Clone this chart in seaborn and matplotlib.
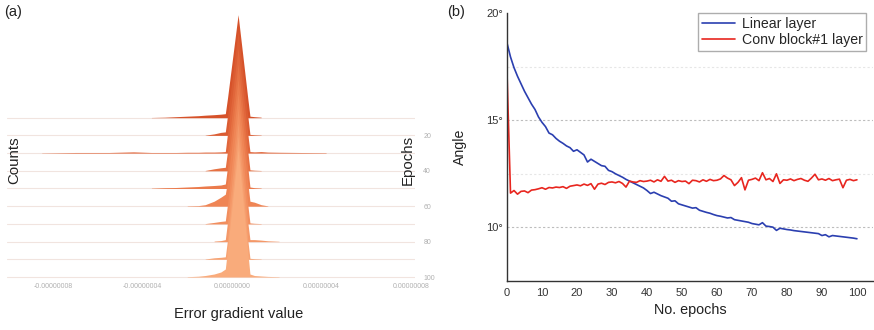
import numpy as np
import pandas as pd
import matplotlib
matplotlib.use("Agg")
import matplotlib.pyplot as plt
import seaborn as sns
from matplotlib.ticker import FuncFormatter

# ---- panel (a): error gradient ridges (x in units of 1e-8) ----
grad_x = [-10.0, -8.5, -7.0, -5.5, -4.4, -3.6, -3.0, -2.5, -2.0, -1.5, -1.2, -0.8, -0.5,
          -0.3, -0.2, 0.27, 0.7, 0.8, 1.0, 1.3, 1.6, 2.1, 3.0, 4.2, 5.5, 8.2]
ridge_epochs = [10, 20, 30, 40, 50, 60, 70, 80, 90, 100]
counts_10 = [0, 0, 0, 0, 0, 0.2, 0.5, 1.0, 1.5, 2.0, 2.5, 3.0, 3.5, 4.0, 20, 103, 20, 1.5, 1.0, 0.5, 0, 0, 0, 0, 0, 0]
counts_20 = [0, 0, 0, 0, 0, 0, 0, 0, 0, 0, 0.2, 1.5, 3.0, 3.5, 20, 104, 20, 1.0, 0.6, 0.3, 0, 0, 0, 0, 0, 0]
counts_30 = [0, 0.2, 0.6, 0.6, 1.2, 0.6, 0.6, 0.6, 0.8, 0.8, 1.0, 1.0, 1.2, 1.5, 20, 105, 20, 1.5, 1.2, 1.5, 1.0, 0.8, 0.6, 0.4, 0, 0]
counts_40 = [0, 0, 0, 0, 0, 0, 0, 0, 0, 0, 0.3, 2.0, 3.0, 3.5, 20, 107, 20, 1.0, 0.6, 0.3, 0, 0, 0, 0, 0, 0]
counts_50 = [0, 0, 0, 0, 0, 0.3, 0.8, 1.0, 1.5, 2.0, 2.5, 3.0, 3.5, 4.5, 22, 110, 22, 1.5, 0.8, 0.4, 0, 0, 0, 0, 0, 0]
counts_60 = [0, 0, 0, 0, 0, 0, 0, 0, 0.3, 0.6, 1.5, 5.0, 9.0, 12.0, 25, 113, 24, 5.0, 4.0, 1.5, 0.3, 0, 0, 0, 0, 0]
counts_70 = [0, 0, 0, 0, 0, 0, 0, 0, 0, 0, 0.3, 1.5, 2.5, 3.0, 20, 116, 20, 1.0, 0.6, 0.3, 0, 0, 0, 0, 0, 0]
counts_80 = [0, 0, 0, 0, 0, 0, 0, 0, 0, 0, 0, 0.5, 1.0, 2.0, 20, 119, 20, 2.0, 2.0, 1.5, 0.8, 0.3, 0, 0, 0, 0]
counts_90 = [0, 0, 0, 0, 0, 0, 0, 0, 0, 0, 0.3, 1.5, 2.0, 2.5, 20, 123, 20, 1.0, 0.6, 0.3, 0, 0, 0, 0, 0, 0]
counts_100 = [0, 0, 0, 0, 0, 0, 0, 0, 0.3, 0.8, 1.5, 3.0, 5.0, 8.0, 28, 128, 26, 3.0, 1.5, 1.0, 0.6, 0.3, 0, 0, 0, 0]
ridge_counts = [counts_10, counts_20, counts_30, counts_40, counts_50,
                counts_60, counts_70, counts_80, counts_90, counts_100]
grad_ticks = [-8e-8, -4e-8, 0.0, 4e-8, 8e-8]
epoch_ticks = [20, 40, 60, 80, 100]

# ---- panel (b): angle vs epochs ----
linear_angle = [
    18.60, 17.95, 17.45, 17.05, 16.70, 16.35, 16.05, 15.75, 15.50, 15.15,
    14.90, 14.70, 14.40, 14.32, 14.15, 14.02, 13.92, 13.80, 13.72, 13.55,
    13.62, 13.50, 13.38, 13.05, 13.18, 13.08, 12.98, 12.88, 12.85, 12.66,
    12.60, 12.50, 12.42, 12.34, 12.24, 12.16, 12.08, 12.00, 11.92, 11.84,
    11.72, 11.58, 11.64, 11.56, 11.48, 11.42, 11.36, 11.22, 11.24, 11.10,
    11.05, 11.00, 10.95, 10.90, 10.92, 10.80, 10.75, 10.70, 10.66, 10.60,
    10.55, 10.52, 10.48, 10.44, 10.46, 10.36, 10.33, 10.30, 10.27, 10.24,
    10.18, 10.15, 10.12, 10.22, 10.06, 10.04, 10.01, 9.86, 9.96, 9.93,
    9.90, 9.88, 9.85, 9.83, 9.81, 9.79, 9.77, 9.75, 9.73, 9.71,
    9.62, 9.66, 9.56, 9.62, 9.60, 9.58, 9.56, 9.54, 9.52, 9.50, 9.47]
conv_angle = [
    17.20, 11.60, 11.72, 11.55, 11.68, 11.70, 11.62, 11.74, 11.76, 11.80,
    11.85, 11.78, 11.86, 11.84, 11.88, 11.86, 11.90, 11.82, 11.92, 11.95,
    11.98, 11.94, 12.02, 11.96, 12.04, 11.78, 12.02, 12.06, 12.00, 12.10,
    12.12, 12.08, 12.14, 12.05, 11.88, 12.16, 12.12, 12.10, 12.18, 12.14,
    12.16, 12.20, 12.12, 12.22, 12.15, 12.38, 12.16, 12.20, 12.10, 12.18,
    12.14, 12.16, 12.04, 12.20, 12.18, 12.12, 12.22, 12.15, 12.24, 12.18,
    12.20, 12.26, 12.42, 12.30, 12.22, 11.95, 12.10, 12.32, 11.75, 12.20,
    12.24, 12.30, 12.18, 12.55, 12.22, 12.28, 12.14, 12.50, 12.05, 12.22,
    12.20, 12.26, 12.18, 12.24, 12.28, 12.20, 12.15, 12.30, 12.48, 12.22,
    12.26, 12.20, 12.28, 12.18, 12.22, 12.25, 11.85, 12.20, 12.24, 12.18, 12.22]
epochs = np.arange(len(linear_angle))

sns.set_style("white")
plt.rcParams["font.family"] = ["Liberation Sans", "DejaVu Sans"]

fig = plt.figure(figsize=(8.74, 3.30), dpi=100)

# ---------- (a) ridgeline ----------
ax1 = fig.add_axes([0.008, 0.1552, 0.4668, 0.8085])
ridge_scale = 1 / 17.7
colors = sns.blend_palette(["#d6522a", "#ee8050", "#f9ab7b"], len(ridge_epochs))
gx = np.array(grad_x) * 1e-8
for i, (ep, cnt) in enumerate(zip(ridge_epochs, ridge_counts)):
    base = (100 - ep) / 10
    ax1.axhline(base, color="#f1e4df", lw=0.8, zorder=1)
    top = base + np.array(cnt) * ridge_scale
    ax1.fill_between(gx, base, top, where=np.array(cnt) > 0, interpolate=False,
                     color=colors[i], lw=0, zorder=2 + i)

ax1.set_xlim(-10.05e-8, 8.17e-8)
ax1.set_ylim(-0.1, 14.97)
for s in ax1.spines.values():
    s.set_visible(False)
ax1.set_xticks(grad_ticks)
ax1.set_xticklabels([f"{v:.8f}" for v in grad_ticks])
ax1.set_xticks([-10e-8, -6e-8, -2e-8, 2e-8, 6e-8], minor=True)
ax1.tick_params(axis="x", which="major", length=0, pad=3, labelsize=5, labelcolor="#b0b0b0")
ax1.tick_params(axis="x", which="minor", length=3, direction="in", color="#ececec")
ax1.yaxis.tick_right()
ax1.set_yticks([(100 - e) / 10 for e in epoch_ticks])
ax1.set_yticklabels([str(e) for e in epoch_ticks])
ax1.tick_params(axis="y", length=0, pad=6, labelsize=5, labelcolor="#b0b0b0")
ax1.set_xlabel("")
fig.text(239 / 874, 1 - 314 / 330, "Error gradient value", ha="center", va="center", fontsize=10.5, color="#222222")
fig.text(14 / 874, 1 - 160 / 330, "Counts", ha="center", va="center", rotation=90, fontsize=10.8, color="#222222")
fig.text(408 / 874, 1 - 160 / 330, "Epochs", ha="center", va="center", rotation=90, fontsize=10.8, color="#222222")
fig.text(4 / 874, 1 - 12 / 330, "(a)", ha="left", va="center", fontsize=10.5, color="#222222")

# ---------- (b) angle curves ----------
ax2 = fig.add_axes([0.5801, 0.1485, 0.4188, 0.8121])
for yv, c in [(10, "#bdbdbd"), (15, "#bdbdbd"), (12.5, "#e6e6e6"), (17.5, "#e6e6e6")]:
    ax2.axhline(yv, color=c, lw=0.8, ls=(0, (2, 2)), zorder=0)
sns.lineplot(x=epochs, y=linear_angle, ax=ax2, color="#2b3fb0", lw=1.2, label="Linear layer")
sns.lineplot(x=epochs, y=conv_angle, ax=ax2, color="#e8261f", lw=1.2, label="Conv block#1 layer")
ax2.set_xlim(0, 104.6)
ax2.set_ylim(7.5, 20)
ax2.set_xticks(np.arange(0, 101, 10))
ax2.set_yticks([10, 15, 20])
ax2.yaxis.set_major_formatter(FuncFormatter(lambda v, p: f"{v:.0f}°"))
ax2.spines["top"].set_visible(False)
ax2.spines["right"].set_visible(False)
for s in ["left", "bottom"]:
    ax2.spines[s].set_color("#333333")
    ax2.spines[s].set_linewidth(1.0)
ax2.tick_params(axis="both", direction="in", length=4, width=1, color="#333333",
                labelsize=8, labelcolor="#333333")
ax2.tick_params(axis="x", pad=5)
ax2.tick_params(axis="y", pad=3)
ax2.set_xlabel("No. epochs", fontsize=10.4, color="#222222", labelpad=4)
ax2.set_ylabel("Angle", fontsize=10.2, color="#222222", labelpad=14)
leg = ax2.legend(loc="upper right", bbox_to_anchor=(0.981, 1.0), borderaxespad=0,
                 fontsize=10.2, frameon=True, fancybox=False, handlelength=2.3,
                 labelspacing=0.2, borderpad=0.25, handletextpad=0.5)
leg.get_frame().set_edgecolor("#999999")
leg.get_frame().set_linewidth(1.0)
fig.text(447 / 874, 1 - 12 / 330, "(b)", ha="left", va="center", fontsize=10.5, color="#222222")

fig.savefig("out.png", dpi=100)
